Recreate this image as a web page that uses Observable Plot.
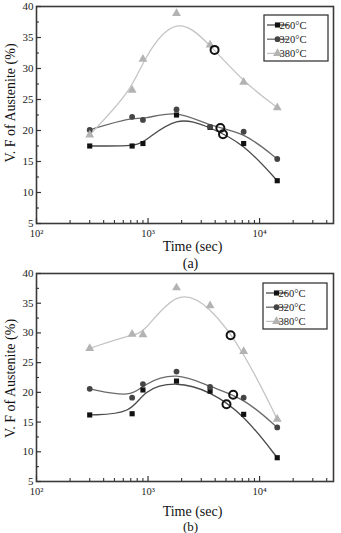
<!DOCTYPE html>
<html><head><meta charset="utf-8">
<script src="https://cdn.jsdelivr.net/npm/d3@7"></script>
<script src="https://cdn.jsdelivr.net/npm/@observablehq/plot@0.6"></script>
<style>
body{margin:0;background:#fff;}
#chart{width:341px;}
#chart svg{display:block;}
#chart svg, #chart svg text{font-family:"Liberation Serif","Times New Roman",serif !important;}
</style></head><body><div id="chart"></div>
<script>
// ---- data ----
const times = [300, 720, 900, 1800, 3600, 7200, 14400];
const seriesNames = ["260°C", "320°C", "380°C"];
// panel (a)
const a260 = [17.5, 17.5, 17.9, 22.5, 20.5, 17.9, 11.9];
const a320 = [20.1, 22.2, 21.7, 23.4, 20.6, 19.8, 15.4];
const a380 = [19.3, 26.5, 31.5, 38.9, 33.8, 27.8, 23.7];
const ringsATime = [3950, 4450, 4700];
const ringsAValue = [33.0, 20.4, 19.4];
// panel (b)
const b260 = [16.2, 16.4, 20.4, 21.9, 20.2, 16.3, 9.0];
const b320 = [20.6, 19.1, 21.4, 23.5, 20.9, 19.1, 14.1];
const b380 = [27.4, 29.8, 29.7, 37.6, 34.6, 26.9, 15.5];
const ringsBTime = [5500, 5800, 5050];
const ringsBValue = [29.6, 19.6, 18.0];
// axes
const xTicks = [100, 1000, 10000];
const xTickLabels = ["10²", "10³", "10⁴"];
const xMinor = [200, 300, 400, 500, 600, 700, 800, 900, 2000, 3000, 4000, 5000, 6000, 7000, 8000, 9000, 20000, 30000, 40000];
const yTicks = [5, 10, 15, 20, 25, 30, 35, 40];
const yMinor = [7.5, 12.5, 17.5, 22.5, 27.5, 32.5, 37.5];
const xLabel = "Time (sec)";
const yLabel = "V. F of Austenite (%)";

// ---- styles ----
const styles = [
  {line: "#4a4a4a", fill: "#111", symbol: "square", r: 2.9},
  {line: "#6a6a6a", fill: "#444", symbol: "circle", r: 2.9},
  {line: "#c4c4c4", fill: "#b3b3b3", symbol: "triangle", r: 3.3}
];
const FONT = "Liberation Serif";

function panel(o) {
  const W = 341, ML = 36, MR = 8;
  const ph = o.height - o.marginTop - o.marginBottom;
  const pw = W - ML - MR;
  const series = o.values.map((vals, k) => ({
    name: seriesNames[k], st: styles[k],
    rows: vals.map((v, i) => ({t: times[i], v}))
  }));
  const rings = o.ringT.map((t, i) => ({t, v: o.ringV[i]}));
  const svg = Plot.plot({
    width: W, height: o.height, marginLeft: ML, marginRight: MR,
    marginTop: o.marginTop, marginBottom: o.marginBottom,
    style: {fontFamily: FONT, fontSize: "11px", color: "#222", background: "#fff", overflow: "visible"},
    x: {type: "log", domain: [100, 46000], axis: null},
    y: {domain: [5, 40], axis: null},
    marks: [
      ...series.map(s => Plot.line(s.rows, {x: "t", y: "v", stroke: s.st.line, strokeWidth: 1.3, curve: "basis"})),
      ...series.map(s => Plot.dot(s.rows, {x: "t", y: "v", symbol: s.st.symbol, fill: s.st.fill, r: s.st.r})),
      Plot.dot(rings, {x: "t", y: "v", r: 4, stroke: "#111", strokeWidth: 2, fill: "none"}),
      Plot.frame({stroke: "#3a3a3a", strokeWidth: 1.6}),
      Plot.tickX(xTicks, {x: d => d, insetTop: ph - 5, stroke: "#333", strokeWidth: 1.2}),
      Plot.tickX(xMinor, {x: d => d, insetTop: ph - 3, stroke: "#333", strokeWidth: 1.1}),
      Plot.tickY(yTicks, {y: d => d, insetRight: pw - 5, stroke: "#333", strokeWidth: 1.2}),
      Plot.tickY(yMinor, {y: d => d, insetRight: pw - 3, stroke: "#333", strokeWidth: 1.1}),
      Plot.axisX(xTicks, {tickSize: 0, tickPadding: 6, tickFormat: d => xTickLabels[xTicks.indexOf(d)], label: null, fontSize: 10.5}),
      Plot.axisY(yTicks, {tickSize: 0, tickPadding: 3, label: null, fontSize: 11}),
      Plot.text([xLabel], {frameAnchor: "bottom", text: d => d, dx: 7.5, dy: o.xLabelDy, fontSize: 14, lineAnchor: "middle", fill: "#111"}),
      Plot.text([o.caption], {frameAnchor: "bottom", text: d => d, dx: 5.5, dy: o.capDy, fontSize: o.capSize, lineAnchor: "middle", fill: "#111"}),
      Plot.text([yLabel], {frameAnchor: "left", text: d => d, rotate: -90, dx: -26, dy: o.yLabelDy, fontSize: 14, lineAnchor: "middle", textAnchor: "middle", fill: "#111"})
    ]
  });
  // legend box
  const g = d3.select(svg).append("g").attr("transform", `translate(${o.legX},${o.legY})`);
  g.append("rect").attr("width", 64).attr("height", 46).attr("fill", "#fff").attr("stroke", "#3a3a3a").attr("stroke-width", 1.3);
  const symMap = {square: d3.symbolSquare, circle: d3.symbolCircle, triangle: d3.symbolTriangle};
  series.forEach((s, k) => {
    const y = 10 + k * 14.2;
    g.append("line").attr("x1", 3).attr("x2", 24).attr("y1", y).attr("y2", y).attr("stroke", s.st.line).attr("stroke-width", 1.3);
    g.append("path").attr("d", d3.symbol(symMap[s.st.symbol], Math.PI * s.st.r * s.st.r)()).attr("transform", `translate(13.5,${y})`).attr("fill", s.st.fill);
    g.append("text").attr("x", 29).attr("y", y).attr("dy", "0.35em").attr("font-family", FONT).attr("font-size", 10.5).attr("fill", "#222").text(s.name);
  });
  return svg;
}

const chart = document.getElementById("chart");
chart.appendChild(panel({
  values: [a260, a320, a380], ringT: ringsATime, ringV: ringsAValue,
  height: 272, marginTop: 6, marginBottom: 49,
  xLabelDy: 23, capDy: 40, capSize: 14, yLabelDy: -12, caption: "(a)", legX: 264, legY: 15
}));
chart.appendChild(panel({
  values: [b260, b320, b380], ringT: ringsBTime, ringV: ringsBValue,
  height: 261, marginTop: 1, marginBottom: 52,
  xLabelDy: 30, capDy: 45, capSize: 13, yLabelDy: 1, caption: "(b)", legX: 263, legY: 11
}));
</script></body></html>
